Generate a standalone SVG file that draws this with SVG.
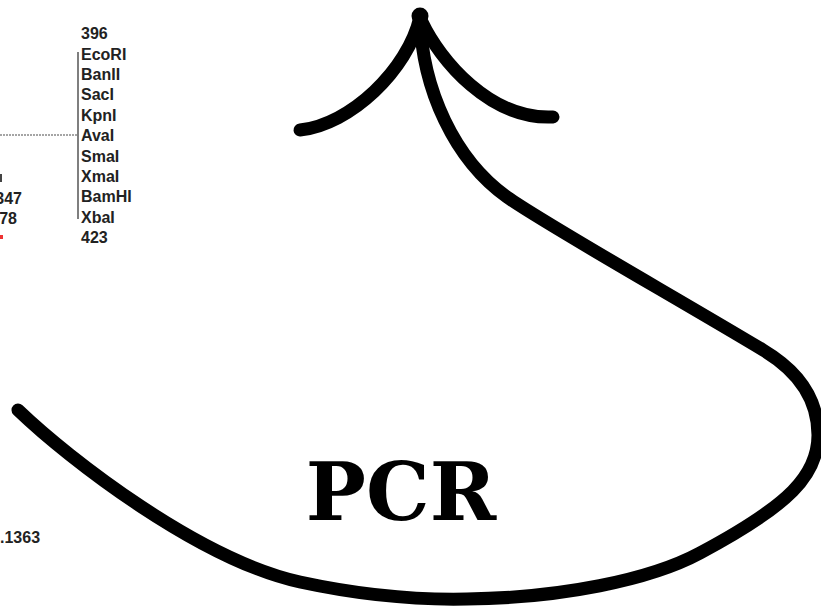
<svg xmlns="http://www.w3.org/2000/svg" width="821" height="607" viewBox="0 0 821 607">
<style>
.lbl{font-family:"Liberation Sans",Arial,sans-serif;font-size:16px;font-weight:bold;fill:#222}
.strand{fill:none;stroke:#000;stroke-width:13;stroke-linecap:round;stroke-linejoin:round}
.pcr{font-family:"DejaVu Serif",serif;font-size:80px;font-weight:bold;fill:#000}
</style>
<rect width="821" height="607" fill="#fff"/>
<g id="map">
  <line x1="0" y1="135" x2="78" y2="135" stroke="#888" stroke-width="1.6" stroke-dasharray="2 1"/>
  <line x1="78" y1="52" x2="78" y2="219" stroke="#555" stroke-width="1.5"/>
  <text class="lbl" x="81" y="39">396</text>
  <text class="lbl" x="81" y="59.5">EcoRI</text>
  <text class="lbl" x="81" y="79.5">BanII</text>
  <text class="lbl" x="81" y="100">SacI</text>
  <text class="lbl" x="81" y="120.5">KpnI</text>
  <text class="lbl" x="81" y="141">AvaI</text>
  <text class="lbl" x="81" y="161.5">SmaI</text>
  <text class="lbl" x="81" y="181.5">XmaI</text>
  <text class="lbl" x="81" y="202">BamHI</text>
  <text class="lbl" x="81" y="222.5">XbaI</text>
  <text class="lbl" x="81" y="243">423</text>
  <text class="lbl" x="22" y="204" text-anchor="end">347</text>
  <text class="lbl" x="17" y="224" text-anchor="end">78</text>
  <text class="lbl" x="0" y="543">.1363</text>
  <rect x="0" y="174" width="2" height="8" fill="#444"/>
  <rect x="0" y="235" width="3" height="4" fill="#e33"/>
</g>
<g id="connectors">
  <path class="strand" d="M18,410 C70,460 200,560 300,582 C360,595 420,600 467,599 C560,598 650,580 700,553 C790,505 818,475 818,435 C818,400 800,372 763,350 C680,300 545,224 507,197 C455,160 422,90 420,17"/>
  <path class="strand" d="M420,17 C408,70 350,125 300,130"/>
  <path class="strand" d="M422,22 C440,60 490,120 553,117"/>
  <circle cx="420" cy="16" r="8.5" fill="#000"/>
</g>
<g id="pcr-label">
  <text class="pcr" x="401" y="520" text-anchor="middle">PCR</text>
</g>
</svg>
